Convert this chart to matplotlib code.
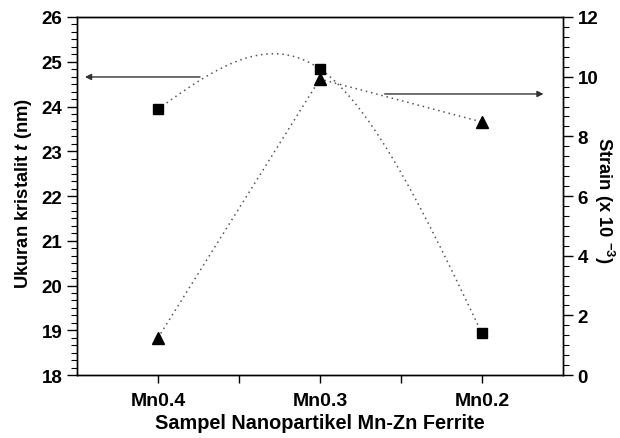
import numpy as np
import matplotlib
matplotlib.use('Agg')
import matplotlib.pyplot as plt
from matplotlib.ticker import MultipleLocator, AutoMinorLocator

samples = ['Mn0.4', 'Mn0.3', 'Mn0.2']
crystallite = [23.94, 24.84, 18.93]   # nm, left axis
strain = [1.24, 9.92, 8.48]           # x 10^-3, right axis


def natural_spline(x, y, n=200):
    # natural cubic spline through the points (what Origin draws for "spline")
    x = np.asarray(x, float)
    y = np.asarray(y, float)
    k = len(x)
    h = np.diff(x)
    A = np.zeros((k, k))
    r = np.zeros(k)
    A[0, 0] = A[-1, -1] = 1
    for i in range(1, k - 1):
        A[i, i - 1] = h[i - 1]
        A[i, i] = 2 * (h[i - 1] + h[i])
        A[i, i + 1] = h[i]
        r[i] = 6 * ((y[i + 1] - y[i]) / h[i] - (y[i] - y[i - 1]) / h[i - 1])
    M = np.linalg.solve(A, r)
    xs, ys = [], []
    for i in range(k - 1):
        t = np.linspace(x[i], x[i + 1], n)
        a = (x[i + 1] - t) / h[i]
        b = (t - x[i]) / h[i]
        s = (a * y[i] + b * y[i + 1]
             + ((a ** 3 - a) * M[i] + (b ** 3 - b) * M[i + 1]) * h[i] ** 2 / 6)
        xs.append(t)
        ys.append(s)
    return np.concatenate(xs), np.concatenate(ys)


plt.rcParams['font.family'] = 'Liberation Sans'
plt.rcParams['font.weight'] = 'bold'
plt.rcParams['mathtext.fontset'] = 'custom'
plt.rcParams['mathtext.rm'] = 'Liberation Sans:bold'
plt.rcParams['mathtext.bf'] = 'Liberation Sans:bold'
plt.rcParams['mathtext.it'] = 'Liberation Sans:bold:italic'

fig = plt.figure(figsize=(6.2, 4.39), dpi=100)
ax = fig.add_axes([0.124, 0.1435, 0.784, 0.8155])
ax2 = ax.twinx()

xpos = np.arange(1, len(samples) + 1)

sx, sy = natural_spline(xpos, crystallite)
ax.plot(sx, sy, ls=(0, (1, 2.5)), lw=1.1, color='#555555')
ax.plot(xpos, crystallite, 's', ms=7.5, color='black', zorder=5)

ax2.plot(xpos, strain, ls=(0, (1, 2.5)), lw=1.1, color='#555555')
ax2.plot(xpos, strain, '^', ms=9, color='black', zorder=5)

ax.set_xlim(0.5, 3.5)
ax.set_ylim(18, 26)
ax2.set_ylim(0, 12)

ax.set_xticks([1, 1.5, 2, 2.5, 3])
ax.set_xticklabels([samples[0], '', samples[1], '', samples[2]])
ax.yaxis.set_major_locator(MultipleLocator(1))
ax.yaxis.set_minor_locator(AutoMinorLocator(6))
ax2.yaxis.set_major_locator(MultipleLocator(2))
ax2.yaxis.set_minor_locator(AutoMinorLocator(6))

ax.tick_params(axis='y', which='major', direction='out', length=7, width=1, labelsize=13.5)
ax.tick_params(axis='y', which='minor', direction='out', length=4, width=0.8)
ax.tick_params(axis='x', which='major', direction='out', length=6, width=1, pad=6, labelsize=14)
ax2.tick_params(axis='y', which='major', direction='out', length=7, width=1, labelsize=13.5)
ax2.tick_params(axis='y', which='minor', direction='out', length=4, width=0.8)
for a in (ax, ax2):
    for sp in a.spines.values():
        sp.set_linewidth(1)

ax.set_xlabel('Sampel Nanopartikel Mn-Zn Ferrite', fontsize=14.3, fontweight='bold', labelpad=3)
ax.set_ylabel('Ukuran kristalit $\\mathit{t}$ (nm)', fontsize=13.2, fontweight='bold')
ax.yaxis.set_label_coords(-0.11, 0.51)
ax.yaxis.label.set_va('center')
ax2.set_ylabel('Strain (x 10 $^{-3}$)', fontsize=13.2, fontweight='bold', rotation=270)
ax2.yaxis.set_label_coords(1.085, 0.49)
ax2.yaxis.label.set_va('center')

# arrows pointing to the axis each series belongs to
ax.annotate('', xy=(0.55, 24.66), xytext=(1.26, 24.66),
            arrowprops=dict(arrowstyle='-|>', lw=1, color='#333333', mutation_scale=9,
                            shrinkA=0, shrinkB=0))
ax2.annotate('', xy=(3.38, 9.42), xytext=(2.40, 9.42),
             arrowprops=dict(arrowstyle='-|>', lw=1, color='#333333', mutation_scale=9,
                             shrinkA=0, shrinkB=0))

fig.savefig('out.png', dpi=100)
